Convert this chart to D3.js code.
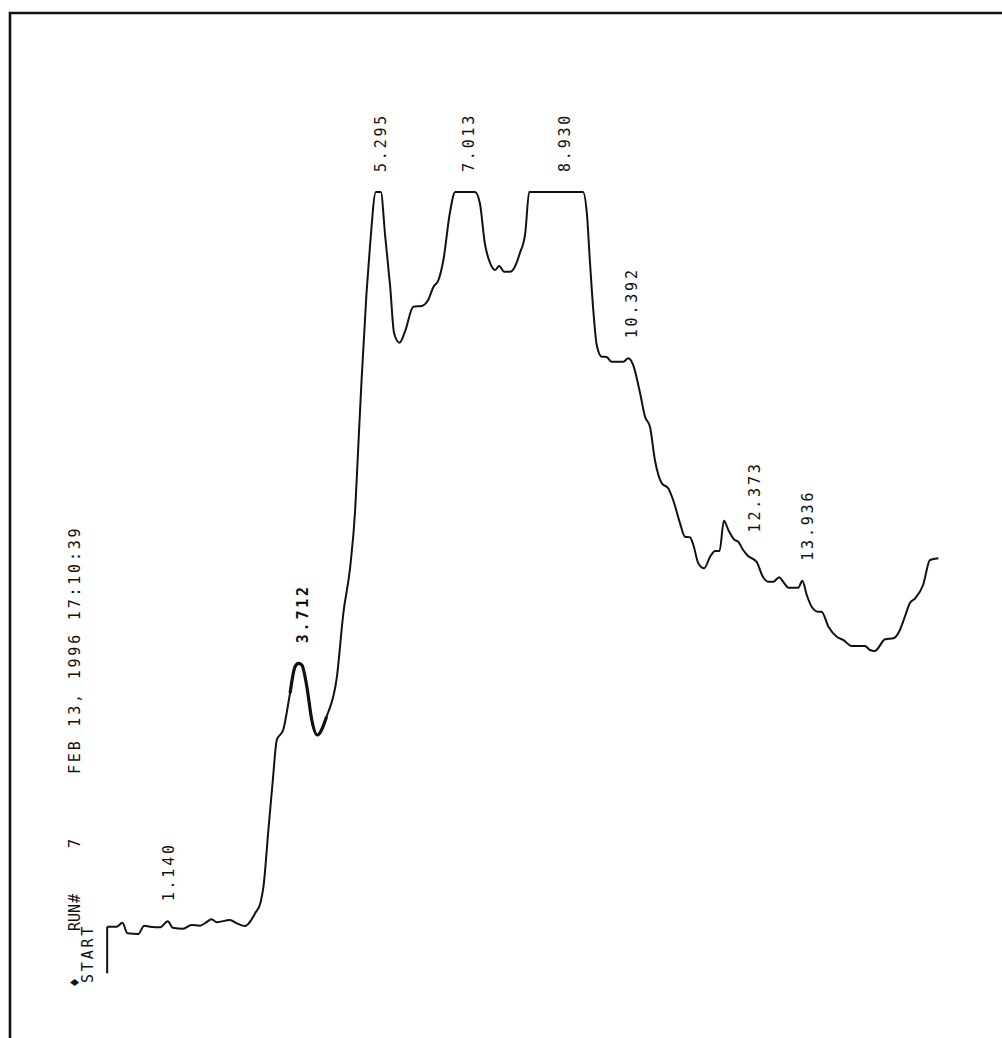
<!DOCTYPE html>
<html>
<head>
<meta charset="utf-8">
<script src="https://cdn.jsdelivr.net/npm/d3@7"></script>
<style>
  html, body { margin: 0; padding: 0; background: #fff; }
  svg { display: block; }
  text { font-family: "DejaVu Sans Mono", "Liberation Mono", monospace; font-size: 15px; fill: #111; letter-spacing: 2.8px; }
</style>
</head>
<body>
<svg id="chart" width="1002" height="1038"></svg>
<script>
// detector trace, minutes vs signal (full scale clips at 100)
const times = [-0.26, -0.07, 0.05, 0.15, 0.37, 0.49, 0.61, 0.81, 0.97, 1.07, 1.28, 1.45, 1.62, 1.72, 1.86, 1.96,
  2.23, 2.37, 2.54, 2.60, 2.74, 2.85, 2.91, 3.01, 3.10, 3.18, 3.31, 3.45, 3.55, 3.62, 3.69, 3.79, 3.89, 4.00,
  4.19, 4.40, 4.53, 4.67, 4.77, 4.83, 4.90, 5.00, 5.07, 5.19, 5.29, 5.38, 5.48, 5.56, 5.67, 5.78, 5.95, 6.12,
  6.25, 6.36, 6.46, 6.56, 6.69, 6.80, 7.20, 7.30, 7.40, 7.51, 7.61, 7.69, 7.79, 7.91, 8.01, 8.11, 8.22, 8.30,
  9.39, 9.47, 9.53, 9.60, 9.67, 9.77, 9.87, 9.97, 10.21, 10.31, 10.41, 10.55, 10.65, 10.75, 10.85, 10.99, 11.12,
  11.22, 11.36, 11.46, 11.56, 11.63, 11.73, 11.85, 11.97, 12.07, 12.16, 12.25, 12.34, 12.47, 12.54, 12.64, 12.74,
  12.91, 13.04, 13.15, 13.25, 13.37, 13.45, 13.56, 13.76, 13.84, 13.93, 14.03, 14.16, 14.23, 14.37, 14.54, 14.67,
  14.84, 15.11, 15.21, 15.31, 15.52, 15.69, 15.82, 15.92, 16.02, 16.13, 16.29, 16.43, 16.60];
const signal = [2.30, 2.30, 2.83, 1.42, 1.33, 2.43, 2.30, 2.22, 3.02, 2.17, 2.03, 2.53, 2.43, 2.75, 3.28, 2.89,
  3.19, 2.75, 2.39, 2.66, 4.08, 5.49, 7.62, 15.16, 21.81, 27.13, 28.46, 33.38, 36.88, 37.33, 37.10, 34.22, 29.79, 27.79,
  30.23, 35.55, 43.98, 50.17, 57.71, 65.69, 75.00, 86.53, 92.73, 100, 100, 94.06, 87.41, 81.21, 79.96, 81.42, 84.75, 84.84,
  85.64, 87.41, 88.30, 90.96, 97.17, 100, 100, 98.50, 93.18, 90.52, 89.63, 90.16, 89.40, 89.40, 90.07, 91.85, 94.51, 100,
  100, 97.17, 90.96, 84.31, 79.65, 78.10, 78.06, 77.43, 77.43, 77.89, 76.99, 73.23, 70.12, 68.79, 64.36, 61.26, 60.60,
  59.04, 55.94, 54.16, 54.08, 53.06, 50.63, 49.96, 51.50, 52.26, 52.26, 56.29, 55.05, 53.72, 53.50, 52.39, 51.60,
  50.84, 48.84, 48.18, 48.18, 48.76, 48.18, 47.38, 47.38, 48.31, 46.41, 44.85, 44.19, 44.19, 42.19, 40.86, 40.43,
  39.63, 39.63, 39.10, 38.96, 40.52, 40.65, 41.76, 43.52, 45.31, 45.97, 47.74, 51.06, 51.29];

// retention times printed by the integrator and where along the run they were printed
const peakLabels = ["1.140", "3.712", "5.295", "7.013", "8.930", "10.392", "12.373", "13.936"];
const labelTimes = [0.99, 3.71, 5.29, 7.08, 9.01, 10.37, 12.88, 13.94];
const heavyLabel = "3.712";

const startTime = -0.26;
const startMarkLow = -3.9;

const stampLabel = "FEB 13, 1996  17:10:39";
const startLabel = "START";

const svg = d3.select("#chart");

const x = d3.scaleLinear().domain([0, 10]).range([120, 613]);
const y = d3.scaleLinear().domain([0, 100]).range([944, 192]);

// paper edge
svg.append("path")
  .attr("d", "M10,1038 L10,13 L1002,13")
  .attr("fill", "none")
  .attr("stroke", "#111")
  .attr("stroke-width", 2.6);

const pts = times.map((t, i) => [t, signal[i]]);

const line = d3.line()
  .x(d => x(d[0]))
  .y(d => y(d[1]))
  .curve(d3.curveMonotoneX);

svg.append("path")
  .datum(pts)
  .attr("d", line)
  .attr("fill", "none")
  .attr("stroke", "#111")
  .attr("stroke-width", 2)
  .attr("stroke-linejoin", "round");

// 3.712 peak got over-struck on the paper
svg.append("path")
  .datum(pts.filter(d => d[0] >= 3.4 && d[0] <= 4.2))
  .attr("d", line)
  .attr("fill", "none")
  .attr("stroke", "#111")
  .attr("stroke-width", 3.2)
  .attr("stroke-linejoin", "round");

// start marker
svg.append("line")
  .attr("x1", x(startTime)).attr("x2", x(startTime))
  .attr("y1", y(signal[0])).attr("y2", y(startMarkLow))
  .attr("stroke", "#111")
  .attr("stroke-width", 2);

// value of the trace at any time (linear between readings)
const bis = d3.bisector(d => d[0]).left;
function valueAt(t) {
  const i = Math.max(1, Math.min(pts.length - 1, bis(pts, t)));
  const a = pts[i - 1], b = pts[i];
  return a[1] + (b[1] - a[1]) * (t - a[0]) / (b[0] - a[0]);
}

// label sits just above the highest point of the recent trace
function localMax(t) {
  const near = pts.filter(d => d[0] >= t - 0.2 && d[0] <= t + 0.05).map(d => d[1]);
  near.push(valueAt(t - 0.2), valueAt(t + 0.05));
  return d3.max(near);
}

peakLabels.forEach((lab, i) => {
  const lx = x(labelTimes[i]);
  const ly = y(localMax(labelTimes[i])) - 20;
  svg.append("text")
    .attr("transform", `translate(${lx},${ly}) rotate(-90)`)
    .attr("dy", "0.36em")
    .attr("text-anchor", "start")
    .style("font-weight", lab === heavyLabel ? "bold" : "normal")
    .text(lab);
});

function vtext(str, px, py) {
  return svg.append("text")
    .attr("transform", `translate(${px},${py}) rotate(-90)`)
    .attr("dy", "0.36em")
    .attr("text-anchor", "start")
    .text(str);
}

vtext("\u2666", 75, 987);
vtext("RUN", 75, 931).style("letter-spacing", "0px");
vtext("#", 75, 903);
vtext("7", 75, 848);
vtext(stampLabel, 75, 774);
vtext(startLabel, 88, 983);
</script>
</body>
</html>
